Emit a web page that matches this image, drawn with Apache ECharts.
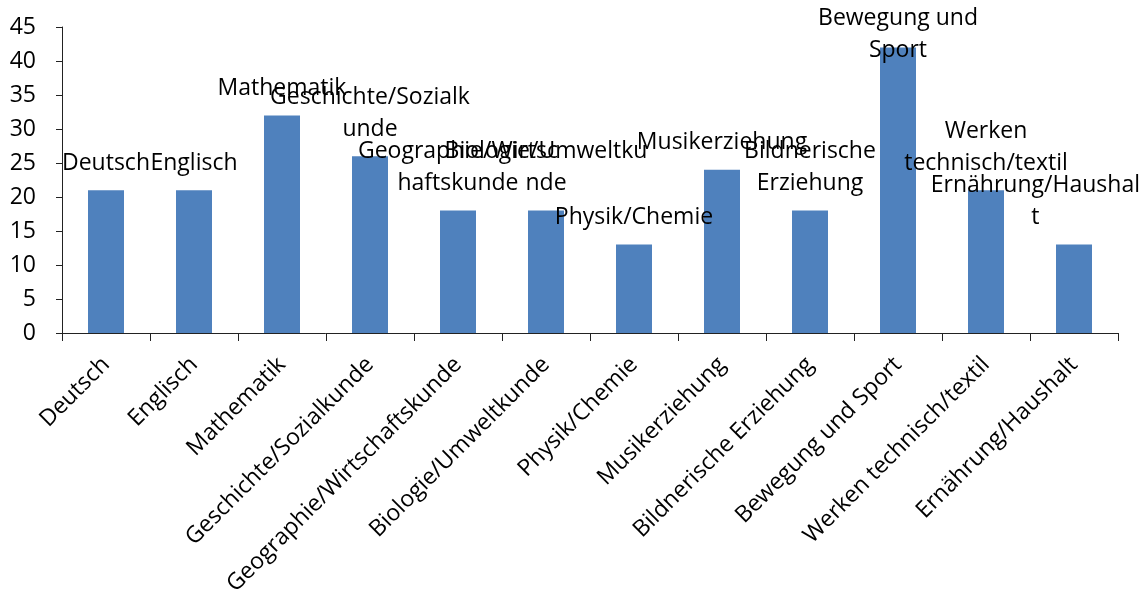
<!DOCTYPE html>
<html>
<head>
<meta charset="utf-8">
<script src="https://cdn.jsdelivr.net/npm/echarts@6/dist/echarts.min.js"></script>
<style>
  html, body { margin: 0; padding: 0; background: #fff; }
  #container { width: 1146px; height: 603px; }
</style>
</head>
<body>
<div id="container"></div>
<script>
// Fächer
const categories = ['Deutsch', 'Englisch', 'Mathematik', 'Geschichte/Sozialkunde',
  'Geographie/Wirtschaftskunde', 'Biologie/Umweltkunde', 'Physik/Chemie', 'Musikerziehung',
  'Bildnerische Erziehung', 'Bewegung und Sport', 'Werken technisch/textil', 'Ernährung/Haushalt']
const values = [21, 21, 32, 26, 18, 18, 13, 24, 18, 42, 21, 13]
// Datenbeschriftungen, umbrochen wie im Original
const barLabels = ['Deutsch', 'Englisch', 'Mathematik', 'Geschichte/Sozialk\nunde',
  'Geographie/Wirtsc\nhaftskunde', 'Biologie/Umweltku\nnde', 'Physik/Chemie', 'Musikerziehung',
  'Bildnerische\nErziehung', 'Bewegung und\nSport', 'Werken\ntechnisch/textil', 'Ernährung/Haushal\nt']
const yTicks = { min: 0, max: 45, interval: 5 }

const font = '"Open Sans", sans-serif'
const size = 23

let mychart = echarts.init(document.getElementById('container'))

let options = {
  animation: false,
  grid: {
    left: 62,
    right: 28,
    top: 27,
    bottom: 270
  },
  xAxis: {
    type: 'category',
    data: categories,
    axisLine: { lineStyle: { color: '#222', width: 1 } },
    axisTick: { show: true, length: 8, lineStyle: { color: '#222' } },
    axisLabel: {
      rotate: 45,
      interval: 0,
      margin: 28,
      color: '#000',
      fontFamily: font,
      fontSize: size
    }
  },
  yAxis: {
    type: 'value',
    min: yTicks.min,
    max: yTicks.max,
    interval: yTicks.interval,
    axisLine: { show: true, lineStyle: { color: '#222', width: 1 } },
    axisTick: { show: true, length: 6, lineStyle: { color: '#222' } },
    axisLabel: {
      margin: 26,
      color: '#000',
      fontFamily: font,
      fontSize: size
    },
    splitLine: { show: false }
  },
  series: [
    {
      type: 'bar',
      data: values,
      barWidth: 36,
      itemStyle: { color: '#4f81bd' },
      label: {
        show: true,
        position: 'top',
        distance: 11,
        color: '#000',
        fontFamily: font,
        fontSize: size,
        lineHeight: 32,
        formatter: (p) => barLabels[p.dataIndex]
      },
      // Beschriftung innerhalb der Zeichenfläche halten
      labelLayout: (params) => {
        const r = params.labelRect
        let dx = 0, dy = 0
        if (r.y < 2) dy = 2 - r.y
        const maxX = mychart.getWidth() - 6
        if (r.x + r.width > maxX) dx = maxX - (r.x + r.width)
        return { dx: dx, dy: dy }
      }
    }
  ]
}

mychart.setOption(options)
window.addEventListener('resize', () => { mychart.resize() })
</script>
</body>
</html>
